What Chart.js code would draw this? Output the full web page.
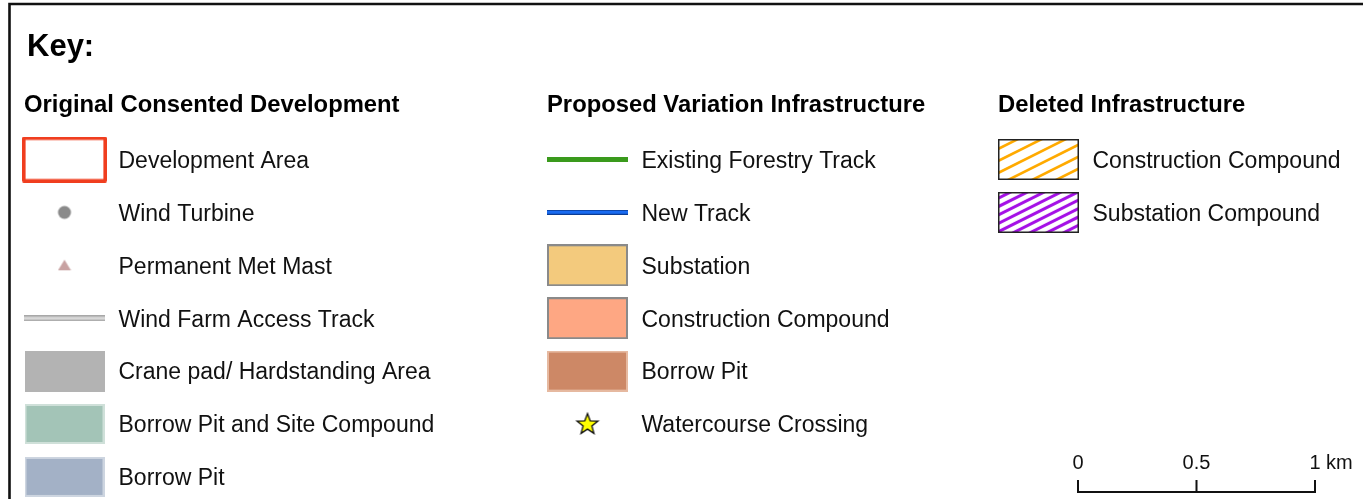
<!DOCTYPE html>
<html>
<head>
<meta charset="utf-8">
<script src="https://cdn.jsdelivr.net/npm/chart.js@4"></script>
<style>
  html, body { margin: 0; padding: 0; background: #fff; }
  #keyChart { display: block; }
</style>
</head>
<body>
<canvas id="keyChart" width="1363" height="499"></canvas>
<script>
// =========================
// LEGEND CONTENT
// =========================
const keyTitle = "Key:";
const sectionTitles = ["Original Consented Development", "Proposed Variation Infrastructure", "Deleted Infrastructure"];

const originalLabels = ["Development Area", "Wind Turbine", "Permanent Met Mast", "Wind Farm Access Track",
  "Crane pad/ Hardstanding Area", "Borrow Pit and Site Compound", "Borrow Pit"];
const originalSymbols = ["boundary", "turbine", "metMast", "accessTrack", "cranePad", "borrowCompound", "borrowPitOld"];

const proposedLabels = ["Existing Forestry Track", "New Track", "Substation", "Construction Compound", "Borrow Pit", "Watercourse Crossing"];
const proposedSymbols = ["forestryTrack", "newTrack", "substation", "constructionCompound", "borrowPitNew", "watercourse"];

const deletedLabels = ["Construction Compound", "Substation Compound"];
const deletedSymbols = ["deletedConstruction", "deletedSubstation"];

const scaleTicks = [0, 0.5, 1];
const scaleUnit = "km";


// =========================
// LAYOUT
// =========================
const W = 1363, H = 499;
const columnLeft = [24, 547, 998];
const symbolHalf = 40.5;       // symbol centre from column left
const labelOffset = 54;        // label start from symbol centre
const firstRowY = 159.5;
const rowStep = 52.9;
const headerY = 105;
const scaleLeft = 1078, scaleLength = 237, scaleBase = 492, scaleTickTop = 480, scaleLabelY = 463;

const FONT = "'Liberation Sans', Arial, sans-serif";


// =========================
// SYMBOL IMAGES (used as pointStyle)
// =========================
function makeSymbol(w, h, draw) {
  const c = document.createElement("canvas");
  c.width = w;
  c.height = h;
  draw(c.getContext("2d"), w, h);
  return c;
}

function filledBox(fill, stroke, w, h) {
  return makeSymbol(w, h, (g) => {
    g.fillStyle = fill;
    g.fillRect(0, 0, w, h);
    if (stroke) {
      g.strokeStyle = stroke;
      g.lineWidth = 2;
      g.strokeRect(1, 1, w - 2, h - 2);
    }
  });
}

function hatchBox(color, gap, lw, w, h) {
  return makeSymbol(w, h, (g) => {
    g.save();
    g.beginPath();
    g.rect(0, 0, w, h);
    g.clip();
    g.strokeStyle = color;
    g.lineWidth = lw;
    const slope = 0.5;
    for (let y0 = -2; y0 < h + w * slope + gap; y0 += gap) {
      g.beginPath();
      g.moveTo(0, y0);
      g.lineTo(w, y0 - w * slope);
      g.stroke();
    }
    g.restore();
    g.strokeStyle = "#222";
    g.lineWidth = 1.5;
    g.strokeRect(0.75, 0.75, w - 1.5, h - 1.5);
  });
}

const symbolImages = {
  boundary: makeSymbol(85, 46, (g) => {
    g.strokeStyle = "#f03e1f";
    g.lineWidth = 3.6;
    g.lineJoin = "round";
    g.strokeRect(1.8, 1.8, 81.4, 42.4);
  }),
  turbine: makeSymbol(16, 16, (g) => {
    g.fillStyle = "#8a8a8a";
    g.beginPath();
    g.arc(8, 8, 6.5, 0, Math.PI * 2);
    g.fill();
  }),
  metMast: makeSymbol(14, 12, (g) => {
    g.fillStyle = "#c8a2a2";
    g.beginPath();
    g.moveTo(7, 0.5);
    g.lineTo(13.5, 11);
    g.lineTo(0.5, 11);
    g.closePath();
    g.fill();
  }),
  accessTrack: makeSymbol(81, 6, (g) => {
    g.fillStyle = "#a8a8a8";
    g.fillRect(0, 0, 81, 6);
    g.fillStyle = "#d8d8d8";
    g.fillRect(0, 1.5, 81, 3);
  }),
  cranePad: filledBox("#b3b3b3", null, 80, 41),
  borrowCompound: filledBox("#a3c4b7", "#cfe0d9", 80, 40),
  borrowPitOld: filledBox("#a3b1c6", "#cdd5e0", 80, 40),
  forestryTrack: makeSymbol(81, 5, (g) => {
    g.fillStyle = "#3a9a1c";
    g.fillRect(0, 0, 81, 5);
  }),
  newTrack: makeSymbol(81, 5, (g) => {
    g.fillStyle = "#0c3d94";
    g.fillRect(0, 0, 81, 5);
    g.fillStyle = "#1a6cf2";
    g.fillRect(0, 0.8, 81, 3);
  }),
  substation: filledBox("#f3ca7d", "#8a8a8a", 81, 42),
  constructionCompound: filledBox("#fea783", "#8a8a8a", 81, 42),
  borrowPitNew: filledBox("#cd8866", "#e6b9a0", 81, 41),
  watercourse: makeSymbol(26, 26, (g) => {
    g.fillStyle = "#ffff00";
    g.strokeStyle = "#111";
    g.lineWidth = 1.3;
    g.beginPath();
    for (let i = 0; i < 10; i++) {
      const r = i % 2 === 0 ? 11 : 4.6;
      const a = -Math.PI / 2 + i * Math.PI / 5;
      const px = 13 + r * Math.cos(a), py = 13.5 + r * Math.sin(a);
      if (i === 0) g.moveTo(px, py); else g.lineTo(px, py);
    }
    g.closePath();
    g.fill();
    g.stroke();
  }),
  deletedConstruction: hatchBox("#ffaa00", 12, 2.6, 81, 41),
  deletedSubstation: hatchBox("#a40fe6", 8.4, 3, 81, 41)
};


// =========================
// BUILD DATASETS
// =========================
function columnPoints(col, labels) {
  return labels.map((label, i) => ({
    x: columnLeft[col] + symbolHalf,
    y: firstRowY + i * rowStep,
    label: label
  }));
}

function columnDataset(col, labels, symbols) {
  return {
    label: sectionTitles[col],
    data: columnPoints(col, labels),
    pointStyle: symbols.map(s => symbolImages[s]),
    pointRadius: 10,
    showLine: false,
    isKeyColumn: true
  };
}

// scale bar path built from the km ticks
const kmToX = (v) => scaleLeft + v * scaleLength;
const scaleBarPoints = [];
scaleTicks.forEach((v, i) => {
  if (i === 0) {
    scaleBarPoints.push({ x: kmToX(v), y: scaleTickTop });
    scaleBarPoints.push({ x: kmToX(v), y: scaleBase });
  } else {
    scaleBarPoints.push({ x: kmToX(v), y: scaleBase });
    scaleBarPoints.push({ x: kmToX(v), y: scaleTickTop });
    if (i < scaleTicks.length - 1) scaleBarPoints.push({ x: kmToX(v), y: scaleBase });
  }
});


// =========================
// TEXT + FRAME PLUGIN
// =========================
const keyText = {
  id: "keyText",
  beforeDatasetsDraw(chart) {
    const g = chart.ctx;
    const xs = chart.scales.x, ys = chart.scales.y;
    // frame (top and left edges)
    g.save();
    g.strokeStyle = "#111";
    g.lineWidth = 2.6;
    g.beginPath();
    g.moveTo(xs.getPixelForValue(W + 5), ys.getPixelForValue(4));
    g.lineTo(xs.getPixelForValue(9.5), ys.getPixelForValue(4));
    g.lineTo(xs.getPixelForValue(9.5), ys.getPixelForValue(H + 5));
    g.stroke();
    g.restore();
  },
  afterDatasetsDraw(chart) {
    const g = chart.ctx;
    const xs = chart.scales.x, ys = chart.scales.y;
    g.save();
    g.fillStyle = "#000";
    g.textBaseline = "middle";
    g.textAlign = "left";

    g.font = "bold 31px " + FONT;
    g.fillText(keyTitle, xs.getPixelForValue(27), ys.getPixelForValue(47));

    g.font = "bold 23.8px " + FONT;
    sectionTitles.forEach((t, c) => {
      g.fillText(t, xs.getPixelForValue(columnLeft[c]), ys.getPixelForValue(headerY));
    });

    g.font = "23px " + FONT;
    g.fillStyle = "#111";
    chart.data.datasets.forEach((ds, di) => {
      if (!ds.isKeyColumn) return;
      const meta = chart.getDatasetMeta(di);
      meta.data.forEach((pt, i) => {
        g.fillText(ds.data[i].label, pt.x + labelOffset, pt.y + 2);
      });
    });

    // scale bar labels
    g.font = "20px " + FONT;
    scaleTicks.forEach((v, i) => {
      const px = xs.getPixelForValue(kmToX(v));
      const py = ys.getPixelForValue(scaleLabelY);
      const txt = String(v);
      const w = g.measureText(txt).width;
      g.fillText(txt, px - w / 2, py);
      if (i === scaleTicks.length - 1) g.fillText(" " + scaleUnit, px + w / 2, py);
    });
    g.restore();
  }
};


// =========================
// CHART
// =========================
const ctx = document.getElementById("keyChart").getContext("2d");

new Chart(ctx, {
  type: "scatter",
  data: {
    datasets: [
      columnDataset(0, originalLabels, originalSymbols),
      columnDataset(1, proposedLabels, proposedSymbols),
      columnDataset(2, deletedLabels, deletedSymbols),
      {
        label: "Scale bar",
        data: scaleBarPoints,
        showLine: true,
        borderColor: "#111",
        borderWidth: 2,
        pointRadius: 0,
        tension: 0
      }
    ]
  },
  options: {
    responsive: false,
    animation: false,
    events: [],
    clip: false,
    layout: { padding: 0, autoPadding: false },
    plugins: {
      legend: { display: false },
      tooltip: { enabled: false }
    },
    scales: {
      x: { type: "linear", min: 0, max: W, display: false },
      y: { type: "linear", min: 0, max: H, reverse: true, display: false }
    }
  },
  plugins: [keyText]
});
</script>
</body>
</html>
